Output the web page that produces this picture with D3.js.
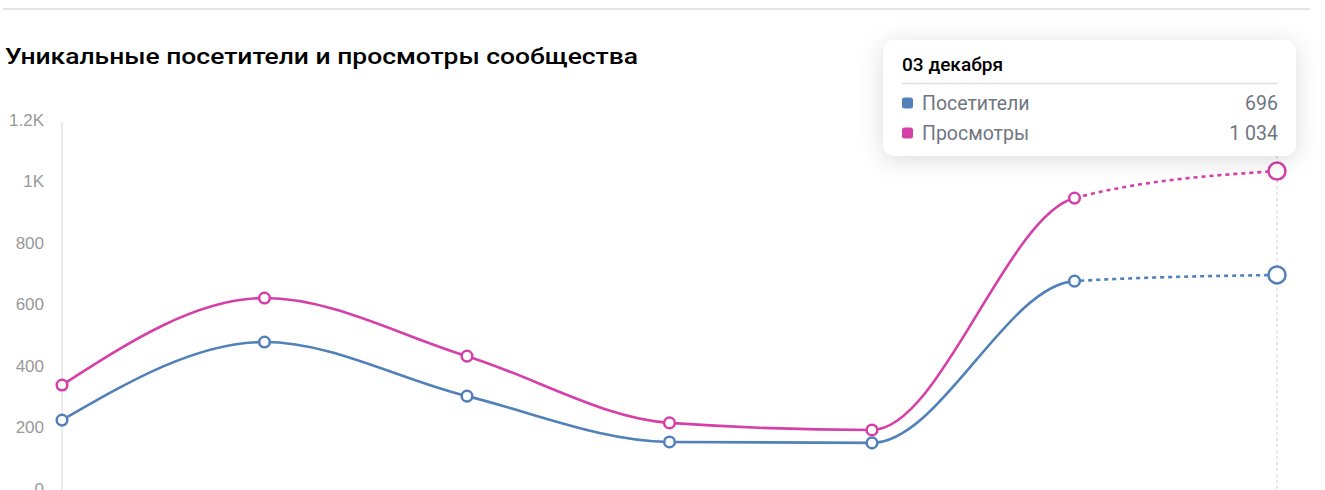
<!DOCTYPE html>
<html>
<head>
<meta charset="utf-8">
<script src="https://cdn.jsdelivr.net/npm/d3@7"></script>
<style>
  html, body { margin: 0; padding: 0; background: #fff; }
  svg { display: block; }
</style>
</head>
<body>
<div class="chart"></div>
<script>
// Data
const dates = ['27 ноября', '28 ноября', '29 ноября', '30 ноября', '01 декабря', '02 декабря', '03 декабря'];
const visitors = [224, 478, 302, 153, 150, 676, 696];
const views = [338, 621, 432, 215, 192, 946, 1034];
const yTicks = [0, 200, 400, 600, 800, 1000, 1200];
const tickLabels = ['0', '200', '400', '600', '800', '1K', '1.2K'];
const seriesNames = ['Посетители', 'Просмотры'];

const w = 1325;
const h = 490;
const blue = '#5181b8';
const pink = '#d53fa8';

const svg = d3.select('.chart').append('svg').attr('width', w).attr('height', h);

const defs = svg.append('defs');
const shadow = defs.append('filter').attr('id', 'shadow')
  .attr('x', '-20%').attr('y', '-40%').attr('width', '140%').attr('height', '190%');
shadow.append('feDropShadow')
  .attr('dx', 0).attr('dy', 4).attr('stdDeviation', 12)
  .attr('flood-color', '#000').attr('flood-opacity', 0.14);

// Scales
const xScale = d3.scalePoint().domain(dates).range([62, 1277]);
const yScale = d3.scaleLinear().domain([0, 1200]).range([489, 120]);

// top separator
svg.append('line')
  .attr('x1', 3).attr('x2', 1310).attr('y1', 9).attr('y2', 9)
  .attr('stroke', '#e3e4e6').attr('stroke-width', 2);

// Title
svg.append('text')
  .attr('x', 5).attr('y', 64)
  .attr('textLength', 633)
  .attr('lengthAdjust', 'spacingAndGlyphs')
  .style('font-family', 'Roboto, sans-serif')
  .style('font-size', '22.5px')
  .style('font-weight', 500)
  .style('fill', '#000')
  .text('Уникальные посетители и просмотры сообщества');

// Y axis
const yAxis = d3.axisLeft(yScale)
  .tickValues(yTicks)
  .tickFormat((d, i) => tickLabels[i])
  .tickSize(0)
  .tickPadding(18);

const yAxisG = svg.append('g')
  .attr('transform', 'translate(62,0)')
  .call(yAxis);
yAxisG.select('.domain').attr('stroke', '#e3e4e6').attr('stroke-width', 1.5)
  .attr('d', `M0,${yScale(1200) + 2}V${h}`);
yAxisG.selectAll('.tick text')
  .style('font-family', 'Liberation Sans, Arial, sans-serif')
  .style('font-size', '17px')
  .style('fill', '#999999');

// clip regions: solid up to the 6th point, dotted after
const splitX = xScale(dates[5]);
defs.append('clipPath').attr('id', 'solidClip')
  .append('rect').attr('x', 0).attr('y', 0).attr('width', splitX).attr('height', h);
defs.append('clipPath').attr('id', 'dashClip')
  .append('rect').attr('x', splitX).attr('y', 0).attr('width', w - splitX).attr('height', h);

// hover guide
const lastX = xScale(dates[6]);
svg.append('line')
  .attr('x1', lastX).attr('x2', lastX).attr('y1', 150).attr('y2', h)
  .attr('stroke', '#cfd2d6').attr('stroke-width', 1.2)
  .attr('stroke-dasharray', '3 3');

const line = d3.line()
  .x((d, i) => xScale(dates[i]))
  .y((d) => yScale(d))
  .curve(d3.curveMonotoneX);

const series = [
  { name: seriesNames[0], values: visitors, color: blue },
  { name: seriesNames[1], values: views, color: pink },
];

series.forEach((s) => {
  svg.append('path')
    .attr('d', line(s.values))
    .attr('fill', 'none')
    .attr('stroke', s.color)
    .attr('stroke-width', 2.6)
    .attr('clip-path', 'url(#solidClip)');
  svg.append('path')
    .attr('d', line(s.values))
    .attr('fill', 'none')
    .attr('stroke', s.color)
    .attr('stroke-width', 2.6)
    .attr('stroke-dasharray', '4 4')
    .attr('clip-path', 'url(#dashClip)');

  svg.selectAll(null)
    .data(s.values)
    .enter()
    .append('circle')
    .attr('cx', (d, i) => xScale(dates[i]))
    .attr('cy', (d) => yScale(d))
    .attr('r', (d, i) => (i === s.values.length - 1 ? 8.5 : 5.3))
    .attr('fill', '#fff')
    .attr('stroke', s.color)
    .attr('stroke-width', 2.5);
});

// Tooltip for last date
const tipW = 413;
const tipH = 116;
const tipX = lastX + 19 - tipW;
const tipY = 40;
const tip = svg.append('g').attr('transform', `translate(${tipX},${tipY})`);
tip.append('rect')
  .attr('width', tipW).attr('height', tipH).attr('rx', 12)
  .attr('fill', '#fff')
  .attr('filter', 'url(#shadow)');
tip.append('text')
  .attr('x', 19).attr('y', 31)
  .attr('textLength', 101)
  .attr('lengthAdjust', 'spacingAndGlyphs')
  .style('font-family', 'Roboto, sans-serif')
  .style('font-size', '17.5px')
  .style('font-weight', 500)
  .style('fill', '#000')
  .text(dates[6]);
tip.append('line')
  .attr('x1', 19).attr('x2', tipW - 18).attr('y1', 43.5).attr('y2', 43.5)
  .attr('stroke', '#dcdee1').attr('stroke-width', 1.5);

const fmt = (v) => d3.format(',')(v).replace(/,/g, ' ');
series.forEach((s, i) => {
  const cy = 63 + i * 30;
  tip.append('rect')
    .attr('x', 19).attr('y', cy - 5.5).attr('width', 11).attr('height', 11).attr('rx', 2.5)
    .attr('fill', s.color);
  tip.append('text')
    .attr('x', 39).attr('y', cy + 7)
    .style('font-family', 'Roboto, sans-serif')
    .style('font-size', '19.5px')
    .style('fill', '#6f7680')
    .text(s.name);
  tip.append('text')
    .attr('x', tipW - 18).attr('y', cy + 7)
    .attr('text-anchor', 'end')
    .style('font-family', 'Roboto, sans-serif')
    .style('font-size', '19.5px')
    .style('fill', '#6f7680')
    .text(fmt(s.values[s.values.length - 1]));
});
</script>
</body>
</html>
